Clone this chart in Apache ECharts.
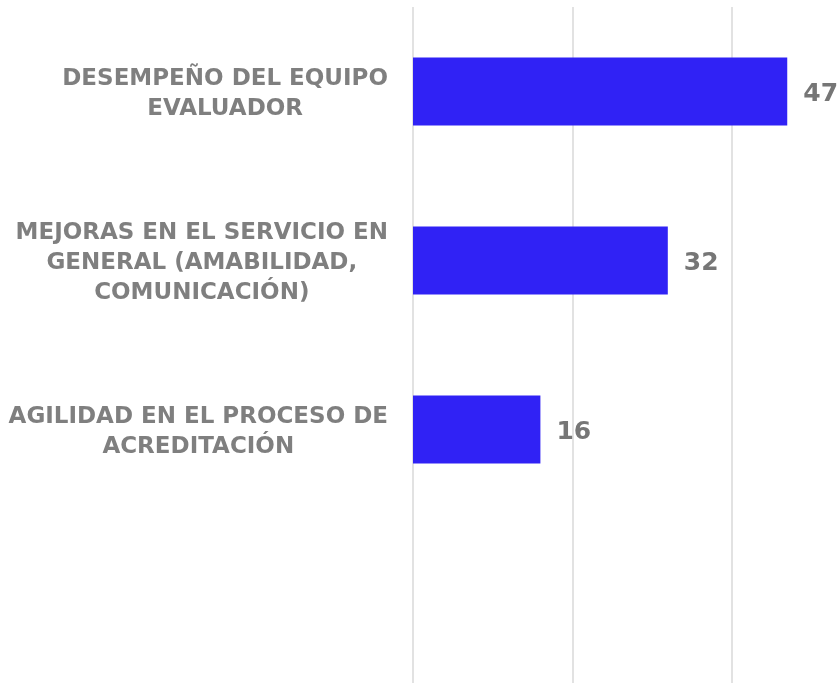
<!DOCTYPE html>
<html>
<head>
<meta charset="utf-8">
<script src="https://cdn.jsdelivr.net/npm/echarts@6/dist/echarts.min.js"></script>
<style>
    html, body { margin: 0; padding: 0; background: #fff; }
    #motivosChart { width: 839px; height: 683px; }
</style>
</head>
<body>
<div id="motivosChart"></div>
<script>
// categorias (la ultima queda vacia, como en el original)
var categorias = [
    'DESEMPEÑO DEL EQUIPO\nEVALUADOR',
    'MEJORAS EN EL SERVICIO EN\nGENERAL (AMABILIDAD,\nCOMUNICACIÓN)',
    'AGILIDAD EN EL PROCESO DE\nACREDITACIÓN',
    ''
]
var valores = [47, 32, 16, null]
var ejeMax = 53.5
var ejeIntervalo = 20

var chart = echarts.init(document.getElementById('motivosChart'))
var option = {
    animation: false,
    grid: {
        left: 413,
        top: 7,
        right: 0,
        height: 680,
        containLabel: false
    },
    xAxis: {
        type: 'value',
        min: 0,
        max: ejeMax,
        interval: ejeIntervalo,
        axisLine: { show: false },
        axisTick: { show: false },
        axisLabel: { show: false },
        splitLine: {
            show: true,
            showMaxLine: false,
            lineStyle: { color: '#d9d9d9', width: 1.5 }
        }
    },
    yAxis: {
        type: 'category',
        inverse: true,
        data: categorias,
        axisLine: { show: false },
        axisTick: { show: false },
        axisLabel: {
            margin: 25,
            align: 'right',
            padding: [6, 0, 0, 0],
            // cada linea centrada dentro del bloque alineado a la derecha
            formatter: function(val) {
                if (!val) return ''
                return val.split('\n').map(function(l) { return '{c|' + l + '}' }).join('\n')
            },
            rich: {
                c: {
                    align: 'center',
                    color: '#7f7f7f',
                    fontFamily: 'DejaVu Sans',
                    fontWeight: 'bold',
                    fontSize: 23,
                    lineHeight: 30
                }
            }
        }
    },
    series: [
        {
            type: 'bar',
            data: valores,
            barWidth: 68,
            itemStyle: { color: '#3022f5' },
            label: {
                show: true,
                position: 'right',
                distance: 16,
                offset: [0, 3],
                color: '#767676',
                fontFamily: 'DejaVu Sans',
                fontWeight: 'bold',
                fontSize: 25
            }
        }
    ]
}
chart.setOption(option)
</script>
</body>
</html>
